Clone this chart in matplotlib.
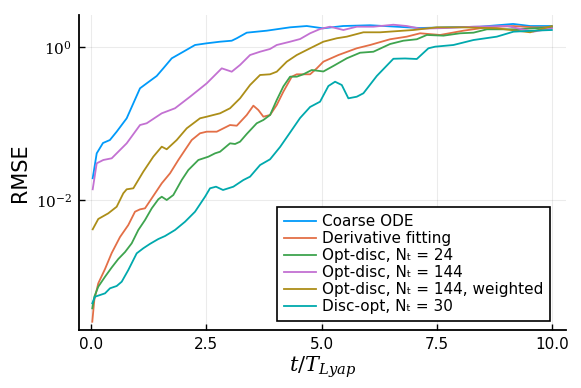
import numpy as np
import matplotlib
matplotlib.use("Agg")
import matplotlib.pyplot as plt

# ---- data (log10 RMSE) ----
t_coarse = [0.037, 0.124, 0.26, 0.41, 0.557, 0.774, 1.063, 1.208, 1.425, 1.568, 1.751, 2.002, 2.256, 2.51, 2.798,
            3.052, 3.161, 3.377, 3.811, 4.317, 4.679, 5.033, 5.466, 6.052, 6.631, 7.137, 7.716, 8.438, 9.154, 9.523, 9.993]
lg_coarse = [-1.712, -1.386, -1.251, -1.212, -1.103, -0.928, -0.536, -0.471, -0.375, -0.275, -0.144, -0.058, 0.030, 0.052,
             0.073, 0.086, 0.118, 0.191, 0.217, 0.261, 0.278, 0.248, 0.278, 0.288, 0.269, 0.252, 0.261, 0.269, 0.305, 0.278, 0.278]

t_deriv = [0.028, 0.072, 0.158, 0.304, 0.449, 0.629, 0.809, 0.954, 1.063, 1.171, 1.317, 1.534, 1.714, 1.894, 2.039, 2.184,
           2.364, 2.51, 2.727, 3.015, 3.161, 3.377, 3.521, 3.629, 3.738, 3.883, 4.028, 4.171, 4.354, 4.462, 4.751, 4.896,
           5.039, 5.365, 5.763, 6.052, 6.486, 6.848, 7.137, 7.57, 8.076, 8.584, 9.161, 9.594, 9.993]
lg_deriv = [-3.587, -3.303, -3.085, -2.898, -2.689, -2.480, -2.323, -2.149, -2.118, -2.105, -1.974, -1.778, -1.647, -1.473,
            -1.342, -1.212, -1.124, -1.103, -1.103, -1.016, -1.025, -0.885, -0.763, -0.820, -0.907, -0.885, -0.754, -0.580,
            -0.384, -0.353, -0.353, -0.275, -0.188, -0.101, -0.013, 0.030, 0.105, 0.139, 0.183, 0.161, 0.217, 0.261, 0.278,
            0.261, 0.261]

t_od24 = [0.028, 0.072, 0.158, 0.304, 0.449, 0.592, 0.738, 0.883, 1.026, 1.171, 1.317, 1.46, 1.534, 1.642, 1.785, 1.967,
          2.111, 2.328, 2.545, 2.69, 2.798, 3.015, 3.124, 3.232, 3.377, 3.594, 3.738, 3.883, 4.028, 4.171, 4.317, 4.462,
          4.605, 4.787, 5.039, 5.256, 5.547, 5.835, 6.124, 6.486, 6.774, 7.065, 7.282, 7.642, 8.004, 8.293, 8.584, 9.161,
          9.594, 9.993]
lg_od24 = [-3.412, -3.260, -3.129, -2.999, -2.878, -2.767, -2.676, -2.562, -2.388, -2.258, -2.105, -1.987, -1.953, -1.996,
           -1.931, -1.735, -1.604, -1.473, -1.430, -1.386, -1.365, -1.255, -1.264, -1.234, -1.133, -0.993, -0.950, -0.885,
           -0.689, -0.512, -0.384, -0.384, -0.353, -0.297, -0.316, -0.244, -0.144, -0.071, -0.058, 0.043, 0.086, 0.105,
           0.161, 0.152, 0.183, 0.191, 0.235, 0.235, 0.248, 0.261]

t_od144 = [0.037, 0.124, 0.267, 0.449, 0.774, 1.063, 1.208, 1.534, 1.822, 2.148, 2.51, 2.835, 3.052, 3.232, 3.449, 3.666,
           3.883, 4.028, 4.317, 4.534, 4.751, 4.967, 5.184, 5.473, 5.763, 6.124, 6.557, 6.848, 7.137, 7.716, 8.293, 9.017,
           9.594, 9.993]
lg_od144 = [-1.856, -1.516, -1.473, -1.451, -1.255, -1.016, -0.993, -0.863, -0.797, -0.646, -0.471, -0.275, -0.319, -0.231,
            -0.101, -0.058, -0.022, 0.030, 0.073, 0.108, 0.183, 0.239, 0.269, 0.226, 0.269, 0.269, 0.295, 0.278, 0.243,
            0.252, 0.269, 0.278, 0.204, 0.248]

t_od144w = [0.037, 0.158, 0.375, 0.557, 0.701, 0.774, 0.918, 1.134, 1.351, 1.534, 1.642, 1.859, 2.076, 2.364, 2.51, 2.653,
            2.798, 3.015, 3.232, 3.449, 3.666, 3.883, 4.028, 4.245, 4.462, 4.751, 5.039, 5.33, 5.547, 5.907, 6.269, 6.991,
            7.499, 8.076, 8.8, 9.523, 9.993]
lg_od144w = [-2.379, -2.244, -2.170, -2.084, -1.908, -1.856, -1.843, -1.626, -1.430, -1.299, -1.333, -1.212, -1.059, -0.928,
             -0.907, -0.885, -0.863, -0.797, -0.667, -0.493, -0.362, -0.353, -0.319, -0.188, -0.101, -0.013, 0.073, 0.118,
             0.139, 0.196, 0.196, 0.226, 0.261, 0.261, 0.248, 0.196, 0.278]

t_disc = [0.028, 0.087, 0.195, 0.304, 0.412, 0.557, 0.666, 0.809, 0.991, 1.134, 1.28, 1.46, 1.605, 1.822, 2.039, 2.256,
          2.473, 2.581, 2.711, 2.863, 3.087, 3.304, 3.449, 3.666, 3.883, 4.1, 4.317, 4.534, 4.751, 4.967, 5.148, 5.293,
          5.438, 5.581, 5.763, 5.907, 6.197, 6.557, 6.811, 7.065, 7.317, 7.462, 7.859, 8.293, 8.8, 9.161, 9.594, 9.993]
lg_disc = [-3.346, -3.260, -3.238, -3.216, -3.150, -3.120, -3.064, -2.911, -2.693, -2.627, -2.569, -2.506, -2.467, -2.388,
           -2.280, -2.149, -1.953, -1.843, -1.822, -1.865, -1.822, -1.735, -1.691, -1.539, -1.464, -1.303, -1.114, -0.924,
           -0.780, -0.711, -0.506, -0.450, -0.493, -0.667, -0.646, -0.601, -0.375, -0.150, -0.146, -0.153, -0.013, 0.008,
           0.030, 0.095, 0.139, 0.204, 0.217, 0.226]

labels = ["Coarse ODE", "Derivative fitting", "Opt-disc, Nₜ = 24", "Opt-disc, Nₜ = 144",
          "Opt-disc, Nₜ = 144, weighted", "Disc-opt, Nₜ = 30"]
colors = ["#009AFA", "#E36F47", "#3EA44E", "#C371D2", "#AC8E18", "#00A9AD"]
series = [(t_coarse, lg_coarse), (t_deriv, lg_deriv), (t_od24, lg_od24), (t_od144, lg_od144),
          (t_od144w, lg_od144w), (t_disc, lg_disc)]

xticks = [0.0, 2.5, 5.0, 7.5, 10.0]
xticklabels = ["0.0", "2.5", "5.0", "7.5", "10.0"]
yticks = [1e-2, 1e0]
yticklabels = [r"$10^{-2}$", r"$10^{0}$"]

plt.rcParams['font.family'] = ['DejaVu Sans']
plt.rcParams['mathtext.fontset'] = 'dejavuserif'

fig = plt.figure(figsize=(5.81, 3.88), dpi=100)
W, H = 581, 388
ax = fig.add_axes([79 / W, 1 - 330 / H, (566 - 79) / W, (330 - 15) / H])

for (t, lg), lab, c in zip(series, labels, colors):
    ax.plot(t, 10 ** np.asarray(lg), color=c, lw=1.3, label=lab)

ax.set_yscale('log')
ax.set_xlim(-0.26, 10.30)
ax.set_ylim(10 ** -3.695, 10 ** 0.422)
ax.set_xticks(xticks)
ax.set_xticklabels(xticklabels)
ax.set_yticks(yticks)
ax.set_yticklabels(yticklabels)
ax.yaxis.set_minor_locator(matplotlib.ticker.NullLocator())

for s in ['top', 'right']:
    ax.spines[s].set_visible(False)
for s in ['left', 'bottom']:
    ax.spines[s].set_linewidth(1.3)
    ax.spines[s].set_color('black')

ax.tick_params(direction='in', length=4, width=1.0, labelsize=11, colors='black', pad=5)
ax.grid(True, color='black', alpha=0.08, lw=0.8)
ax.set_axisbelow(True)

ax.set_ylabel("RMSE", fontsize=15, labelpad=4)
ax.set_xlabel(r"$t/T_{Lyap}$", fontsize=15, labelpad=2)

leg = ax.legend(loc='lower right', bbox_to_anchor=(0.967, 0.029), fontsize=11, frameon=True,
                fancybox=False, edgecolor='black', framealpha=1.0, borderpad=0.45,
                labelspacing=0.13, handlelength=2.1, handletextpad=0.35, borderaxespad=0)
leg.get_frame().set_linewidth(1.2)

fig.savefig("out.png", dpi=100)
